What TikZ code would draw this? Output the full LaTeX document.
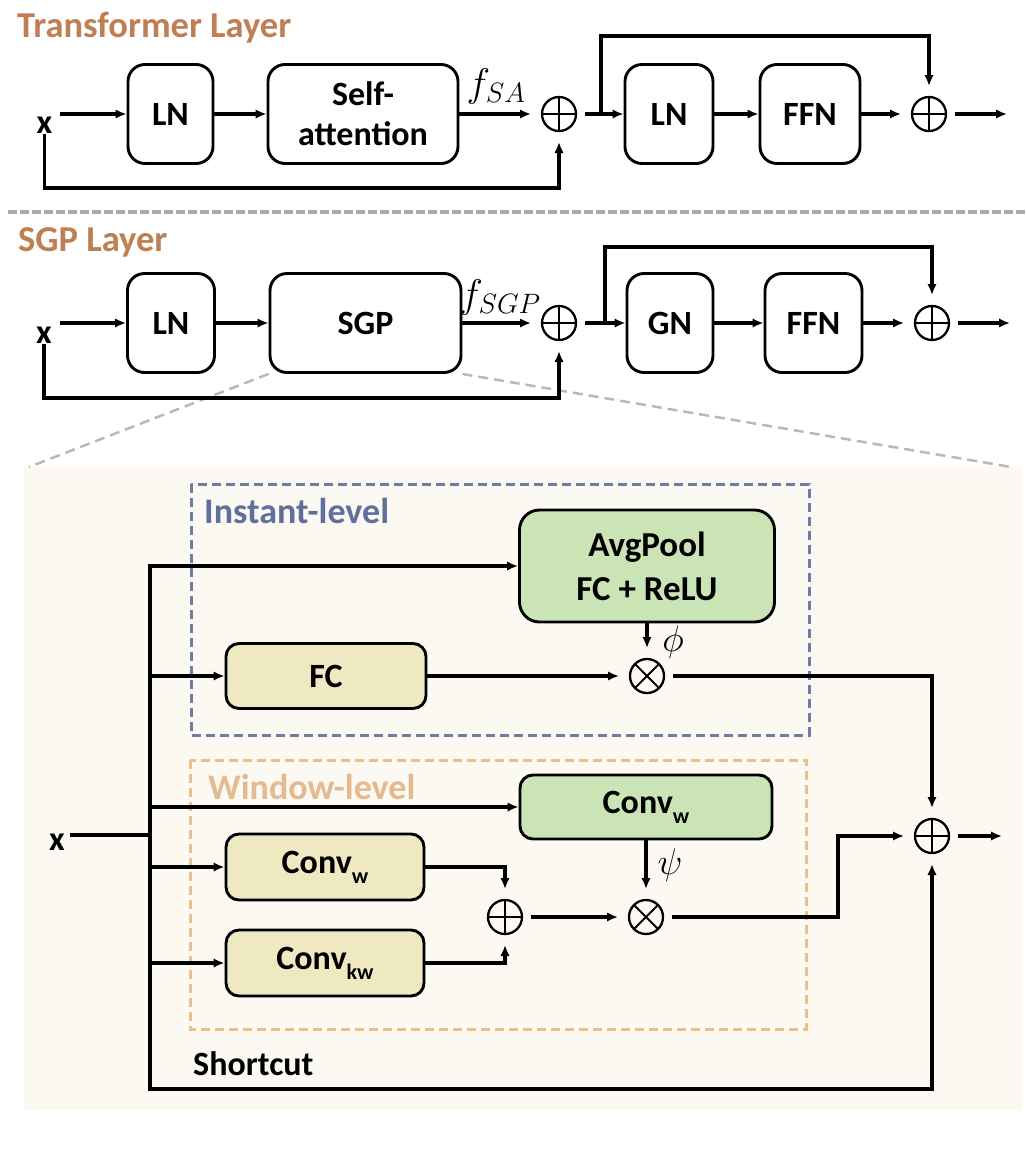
\RequirePackage{fix-cm}
\documentclass[tikz,border=0pt]{standalone}
\usepackage{fontspec}
\newfontfamily\carl{Carlito}
\usetikzlibrary{arrows.meta,calc}
\definecolor{titlec}{RGB}{192,126,84}
\definecolor{instc}{RGB}{96,112,158}
\definecolor{instb}{RGB}{110,125,168}
\definecolor{winc}{RGB}{228,186,144}
\definecolor{winb}{RGB}{232,190,146}
\definecolor{greenf}{RGB}{202,228,182}
\definecolor{khaki}{RGB}{238,233,193}
\definecolor{panelc}{RGB}{252,249,242}
\definecolor{sepg}{RGB}{170,170,170}
\definecolor{zoomg}{RGB}{185,185,185}
\newcommand\mysub[1]{\raisebox{-0.3em}{\fontsize{22}{22}\selectfont #1}}
\begin{document}
\begin{tikzpicture}[x=1pt,y=-1pt,
  every node/.style={font=\carl\bfseries\fontsize{34}{40}\selectfont, inner sep=0pt},
  box/.style={draw, line width=2.9pt, rounded corners=17pt, align=center, fill=white},
  sbox/.style={draw, line width=2.9pt, rounded corners=13pt, align=center},
  arr/.style={line width=3.4pt, line cap=rect, -{Latex[length=11pt,width=9.5pt]}},
  ln/.style={line width=3.4pt, line cap=rect},
  mth/.style={font=\fontsize{40}{40}\selectfont},
  opl/.style={circle, draw, line width=2.3pt, minimum size=34pt, inner sep=0pt, outer sep=11pt,
    path picture={\draw[line width=1.9pt] (path picture bounding box.north) -- (path picture bounding box.south)
      (path picture bounding box.west) -- (path picture bounding box.east);}},
  otm/.style={circle, draw, line width=2.3pt, minimum size=34pt, inner sep=0pt, outer sep=11pt,
    path picture={\draw[line width=1.9pt] (path picture bounding box.north west) -- (path picture bounding box.south east)
      (path picture bounding box.north east) -- (path picture bounding box.south west);}},
  ttl/.style={anchor=base west, text=titlec, font=\carl\bfseries\fontsize{36.5}{40}\selectfont}
]
\useasboundingbox[fill=white] (0,0) rectangle (1026,1152);

% ---------- Transformer layer ----------
\node[ttl] (t1) at (17,37) {Transformer Layer};
\node[box, minimum width=85pt, minimum height=99pt] (LN1) at (170.5,114) {LN};
\node[box, minimum width=190pt, minimum height=99pt] (SA) at (363,114) {Self-\\attention};
\node[opl] (P1) at (559,114) {};
\node[box, minimum width=88pt, minimum height=99pt] (LN1b) at (669,114) {LN};
\node[box, minimum width=100pt, minimum height=99pt] (FFN1) at (810,114) {FFN};
\node[opl] (Q1) at (929,114) {};
\coordinate (o1) at (1007,114);
\node[anchor=base] (x1) at (44.5,133) {x};
\coordinate (xs1) at (62,114);
\coordinate (sk1) at (601,114);
\node[mth] (fsa) at (496,86) {$f_{SA}$};

\draw[arr] (xs1) -- (LN1);
\draw[arr] (LN1) -- (SA);
\draw[arr] (SA) -- (P1);
\draw[arr] (P1) -- (LN1b);
\draw[arr] (LN1b) -- (FFN1);
\draw[arr] (FFN1) -- (Q1);
\draw[arr] (Q1) -- (o1);
\draw[arr] (sk1) |- (Q1.north |- 0,36) -- (Q1.north);
\draw[arr] ([yshift=-2pt]x1.south) |- (P1.south |- 0,188) -- (P1.south);

% separator
\draw[sepg, line width=3.5pt, dash pattern=on 9pt off 3pt] (8,212) -- (1026,212);

% ---------- SGP layer ----------
\node[ttl] (t2) at (18,251) {SGP Layer};
\fill[panelc] (24,467) rectangle (1022,1110);
\node[box, minimum width=87pt, minimum height=99pt] (LN2) at (171,323) {LN};
\node[box, minimum width=191pt, minimum height=99pt] (SGP) at (365.5,323) {SGP};
\draw[zoomg, line width=2.5pt, dash pattern=on 10pt off 6pt] (SGP.south west) -- (29,467);
\draw[zoomg, line width=2.5pt, dash pattern=on 10pt off 6pt] (SGP.south east) -- (1011,467);
\node[opl] (P2) at (559,323) {};
\node[box, minimum width=86pt, minimum height=99pt] (GN) at (670,323) {GN};
\node[box, minimum width=97pt, minimum height=99pt] (FFN2) at (813.5,323) {FFN};
\node[opl] (Q2) at (932,323) {};
\coordinate (o2) at (1010,323);
\node[anchor=base] (x2) at (44,343) {x};
\coordinate (xs2) at (62,323);
\coordinate (sk2) at (605,323);
\node[mth] (fsgp) at (500,297) {$f_{SGP}$};

\draw[arr] (xs2) -- (LN2);
\draw[arr] (LN2) -- (SGP);
\draw[arr] (SGP) -- (P2);
\draw[arr] (P2) -- (GN);
\draw[arr] (GN) -- (FFN2);
\draw[arr] (FFN2) -- (Q2);
\draw[arr] (Q2) -- (o2);
\draw[arr] (sk2) |- (Q2.north |- 0,247) -- (Q2.north);
\draw[arr] ([yshift=-2pt]x2.south) |- (P2.south |- 0,398) -- (P2.south);

% ---------- SGP detail ----------
\draw[instb, line width=3pt, dash pattern=on 9pt off 5pt] (191,484) rectangle (809,735);
\node[anchor=base west, text=instc, font=\carl\bfseries\fontsize{36}{40}\selectfont] (il) at (204,523) {Instant-level};
\draw[winb, line width=3pt, dash pattern=on 9pt off 5pt] (190,760) rectangle (806,1029);
\node[anchor=base west, text=winc, font=\carl\bfseries\fontsize{36}{40}\selectfont] (wl) at (208,799) {Window-level};

\node[sbox, fill=greenf, rounded corners=20pt, minimum width=255pt, minimum height=112pt,
  font=\carl\bfseries\fontsize{35}{44}\selectfont] (AP) at (647,566) {AvgPool\\FC + ReLU};
\node[sbox, fill=khaki, minimum width=200pt, minimum height=65pt] (FC) at (326,676) {FC};
\node[otm] (O1) at (647,676) {};
\node[font=\fontsize{37}{37}\selectfont] (phi) at (673,642) {$\phi$};
\node[sbox, fill=greenf, minimum width=252pt, minimum height=64pt] (G) at (646,807) {Conv\mysub{w}};
\node[sbox, fill=khaki, minimum width=198pt, minimum height=66pt] (CW) at (325,867) {Conv\mysub{w}};
\node[sbox, fill=khaki, minimum width=198pt, minimum height=66pt] (CKW) at (325,963) {Conv\mysub{kw}};
\node[opl] (W) at (505,917) {};
\node[otm] (O2) at (646,917) {};
\node[font=\fontsize{37}{37}\selectfont] (psi) at (670,865) {$\psi$};
\node[opl] (F) at (932,836) {};
\coordinate (o3) at (1002,836);
\node[anchor=base] (xb) at (57,850) {x};
\coordinate (xbs) at (72,835);
\coordinate (tTop) at (150,566);
\coordinate (tBot) at (150,1089);
\coordinate (bend) at (838,917);
\node[anchor=base west] (sc) at (193,1075) {Shortcut};

\draw[arr] (tTop) -- (tBot) -| (F.south);
\draw[arr] (tTop) -- (AP.west);
\draw[arr] (tTop |- FC.west) -- (FC.west);
\draw[arr] (FC) -- (O1);
\draw[arr] (AP) -- (O1);
\draw[arr] (O1) -| (F);
\draw[arr] (tTop |- G.west) -- (G.west);
\draw[arr] (tTop |- CW.west) -- (CW.west);
\draw[arr] (tTop |- CKW.west) -- (CKW.west);
\draw[arr] (CW) -| (W);
\draw[arr] (CKW) -| (W);
\draw[arr] (W) -- (O2);
\draw[arr] (G) -- (O2);
\draw[arr] (O2) -- (bend) |- (F);
\draw[arr] (F) -- (o3);
\draw[ln] (xbs) -- (tTop |- xbs);
\end{tikzpicture}
\end{document}
